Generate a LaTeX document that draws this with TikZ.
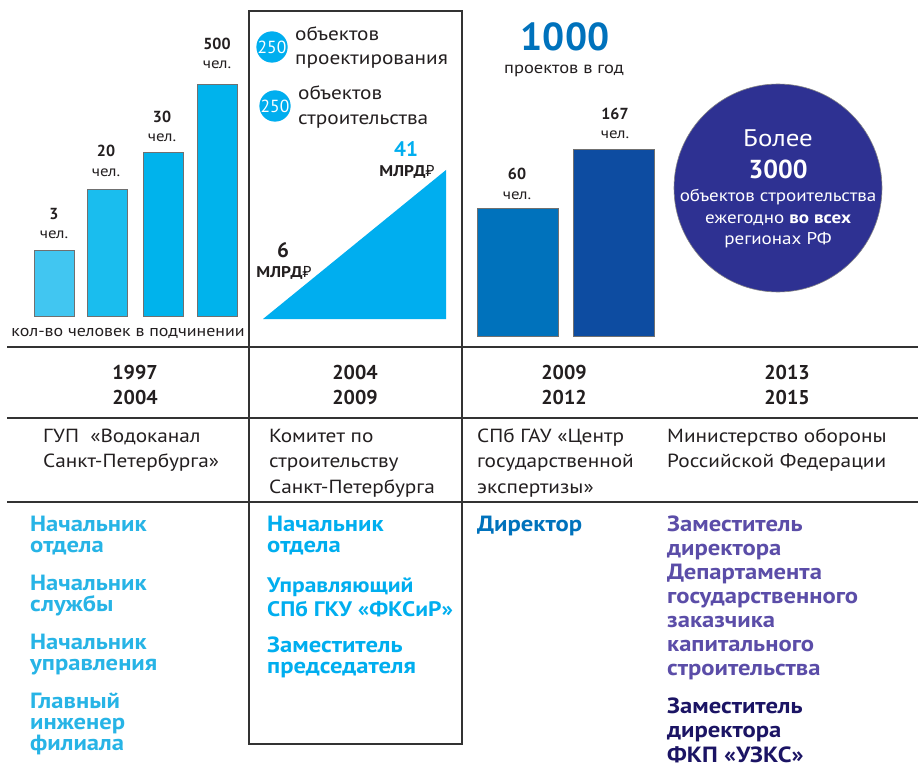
\documentclass[tikz,border=0pt]{standalone}
\usepackage{fontspec}
\setmainfont{PT Sans}[FakeStretch=1.12]
\newfontfamily\numfont{PT Sans}
\newfontfamily\rubfont{Noto Sans}
\definecolor{lineg}{HTML}{333333}
\definecolor{cA}{HTML}{41C6F1}
\definecolor{cB}{HTML}{1ABDEE}
\definecolor{cC}{HTML}{00B3EC}
\definecolor{cyan1}{HTML}{00AEEF}
\definecolor{roleA}{HTML}{27B4E6}
\definecolor{blueA}{HTML}{0072BC}
\definecolor{blueB}{HTML}{0D4CA1}
\definecolor{indigo}{HTML}{2E3192}
\definecolor{purp}{HTML}{5B4DA8}
\definecolor{navy}{HTML}{1B1464}
\definecolor{txt}{HTML}{231F20}
\newcommand{\rub}{{\rubfont ₽}}
\newcommand{\fs}[2]{\fontsize{#1}{#2}\selectfont}
\newcommand{\ml}[1]{\vtop{\let\\\cr\halign{##\hfil\cr#1\crcr}}}
\begin{document}
\begin{tikzpicture}[x=1pt,y=-1pt,
  rule/.style={draw=lineg,line width=1.4pt},
  barbox/.style={draw=lineg!70,line width=0.8pt},
  txtnode/.style={inner sep=0pt,text=txt,anchor=base},
  role/.style={inner sep=0pt,anchor=base west,font=\bfseries\fs{22}{21.5}},
  org/.style={inner sep=0pt,anchor=base west,text=txt,font=\fs{19}{25.5}},
  year/.style={inner sep=0pt,anchor=base,text=txt,font=\numfont\bfseries\fs{20}{25}},
  num/.style={inner sep=0pt,anchor=base,text=txt,font=\numfont\bfseries\fs{16}{16}},
  chel/.style={inner sep=0pt,anchor=base,text=txt,font=\fs{15}{15}},
  badge/.style={circle,fill=cyan1,minimum size=31pt,inner sep=0pt,text=white,font=\numfont\fs{17.5}{17.5}}
]
\useasboundingbox (0,0) rectangle (918,770);
\fill[white] (0,0) rectangle (918,770);

% ---- grid lines
\coordinate (hl1a) at (7,347);  \coordinate (hl1b) at (918,347);
\coordinate (hl2a) at (7,418);  \coordinate (hl2b) at (918,418);
\coordinate (hl3a) at (7,502);  \coordinate (hl3b) at (918,502);
\draw[rule] (hl1a) -- (hl1b);
\draw[rule] (hl2a) -- (hl2b);
\draw[rule] (hl3a) -- (hl3b);
\coordinate (bx1) at (249,11); \coordinate (bx2) at (462,744);
\draw[rule] (bx1) rectangle (bx2);

% ---- column 1 bars
\draw[barbox,fill=cA] (34,250) rectangle (74,316);
\draw[barbox,fill=cB] (87,189) rectangle (127,316);
\draw[barbox,fill=cC] (143,152) rectangle (183,316);
\draw[barbox,fill=cC] (197,84) rectangle (237,316);
\node[num]  (n3)   at (54,219) {3};
\node[chel] (c3)   at (54,239) {чел.};
\node[num]  (n20)  at (106,157) {20};
\node[chel] (c20)  at (106,177) {чел.};
\node[num]  (n30)  at (162,123) {30};
\node[chel] (c30)  at (162,142) {чел.};
\node[num]  (n500) at (217,50) {500};
\node[chel] (c500) at (217,69) {чел.};
\node[txtnode,font=\fs{16}{16}] (kol) at (128,336) {кол-во человек в подчинении};

% ---- column 2 top
\node[badge] (b1) at (272,47) {250};
\node[badge] (b2) at (275,106) {250};
\node[txtnode,anchor=base west,font=\fs{19}{24}] (o1) at (295,41) {\ml{объектов\\проектирования}};
\node[txtnode,anchor=base west,font=\fs{19}{25}] (o2) at (298,100) {\ml{объектов\\строительства}};
\coordinate (t1) at (263,319); \coordinate (t2) at (446,319); \coordinate (t3) at (446,170);
\fill[cyan1] (t1) -- (t2) -- (t3) -- cycle;
\node[txtnode,font=\numfont\bfseries\fs{21}{21}] (six) at (283,257) {6};
\node[txtnode,font=\bfseries\fs{15.5}{15.5}] (six2) at (284,277) {МЛРД\rub};
\node[txtnode,text=cyan1,font=\numfont\bfseries\fs{21}{21}] (ft) at (406,157) {41};
\node[txtnode,font=\bfseries\fs{15.5}{15.5}] (ft2) at (407,177) {МЛРД\rub};

% ---- column 3 top
\node[txtnode,text=blueA,font=\numfont\bfseries\fs{39}{39}] (k1000) at (565,51) {1000};
\node[txtnode,font=\fs{16.5}{16.5}] (proj) at (564,74) {проектов в год};
\draw[barbox,fill=blueA] (477,208) rectangle (558,336);
\draw[barbox,fill=blueB] (573,149) rectangle (654,336);
\node[num]  (n60)  at (517,180) {60};
\node[chel] (c60)  at (517,200) {чел.};
\node[num]  (n167) at (615,120) {167};
\node[chel] (c167) at (615,139) {чел.};

% ---- column 4 top
\node[circle,fill=indigo,draw=lineg!60,line width=0.6pt,minimum size=208pt,inner sep=0pt] (circ) at (778,188) {};
\node[txtnode,text=white,font=\fs{24}{24}] (bol) at (778,147) {Более};
\node[txtnode,text=white,font=\numfont\bfseries\fs{26}{26}] (t3000) at (778,179) {3000};
\node[txtnode,text=white,font=\fs{17}{17}] (cl1) at (778,201) {объектов строительства};
\node[txtnode,text=white,font=\fs{17}{17}] (cl2) at (778,223) {ежегодно \textbf{во всех}};
\node[txtnode,text=white,font=\fs{17}{17}] (cl3) at (778,244) {регионах РФ};

% ---- years
\node[year] (y1) at (135,379) {1997};  \node[year] (y1b) at (135,404) {2004};
\node[year] (y2) at (355,379) {2004};  \node[year] (y2b) at (355,404) {2009};
\node[year] (y3) at (564,379) {2009};  \node[year] (y3b) at (564,404) {2012};
\node[year] (y4) at (787,379) {2013};  \node[year] (y4b) at (787,404) {2015};

% ---- organisations
\node[org] (g1) at (43,442) {\ml{ГУП\ \ «Водоканал\\Санкт-Петербурга»}};
\node[org] (g2) at (269,442) {\ml{Комитет по\\строительству\\Санкт-Петербурга}};
\node[org] (g3) at (477,442) {\ml{СПб ГАУ «Центр\\государственной\\экспертизы»}};
\node[org] (g4) at (667,442) {\ml{Министерство обороны\\Российской Федерации}};

% ---- roles
\node[role,text=roleA] (r11) at (30,531) {\ml{Начальник\\отдела}};
\node[role,text=roleA] (r12) at (30,590) {\ml{Начальник\\службы}};
\node[role,text=roleA] (r13) at (30,649) {\ml{Начальник\\управления}};
\node[role,text=roleA,font=\bfseries\fs{22}{21}] (r14) at (30,708) {\ml{Главный\\инженер\\филиала}};
\node[role,text=cyan1] (r21) at (267,531) {\ml{Начальник\\отдела}};
\node[role,text=cyan1,font=\bfseries\fs{21}{24}] (r22) at (267,592) {\ml{Управляющий\\СПб ГКУ «ФКСиР»}};
\node[role,text=cyan1,font=\bfseries\fs{22}{21.5}] (r23) at (267,652) {\ml{Заместитель\\председателя}};
\node[role,text=blueA] (r31) at (477,531) {Директор};
\node[role,text=purp,font=\bfseries\fs{22}{24}] (r41) at (667,531) {\ml{Заместитель\\директора\\Департамента\\государственного\\заказчика\\капитального\\строительства}};
\node[role,text=navy,font=\bfseries\fs{22}{24.5}] (r42) at (667,713) {\ml{Заместитель\\директора\\ФКП «УЗКС»}};
\end{tikzpicture}
\end{document}
